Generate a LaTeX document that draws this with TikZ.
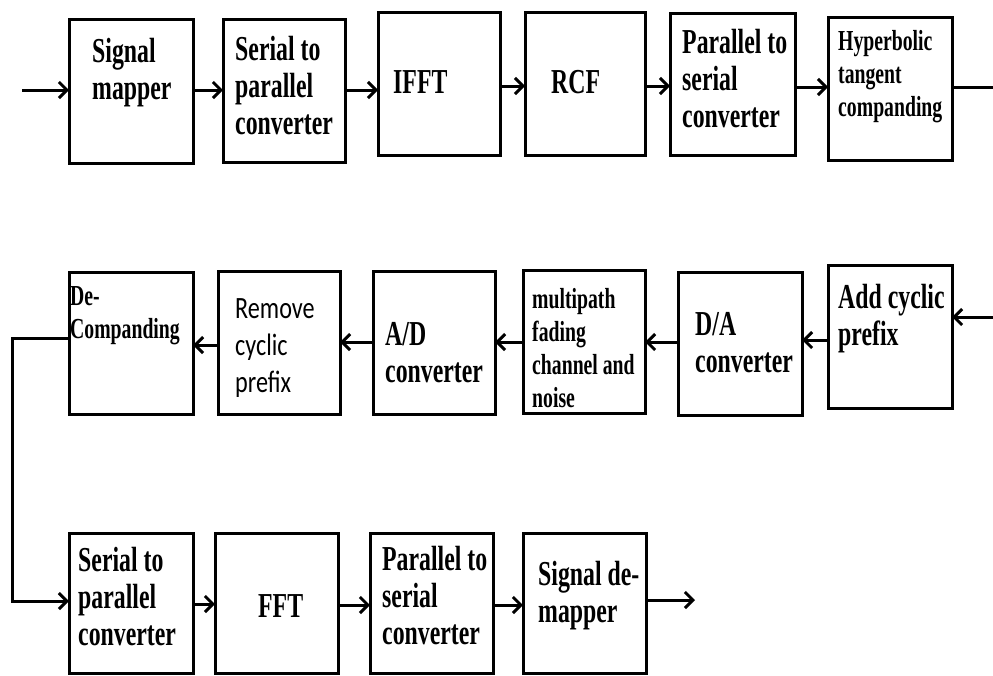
\documentclass[tikz,border=0pt]{standalone}
\usepackage{fontspec}
\usetikzlibrary{arrows.meta}
\newfontfamily\blkserif[FakeStretch=0.68]{Liberation Serif}
\newfontfamily\blksans[FakeStretch=0.78]{Carlito}
% labels are placed by the baseline of their last line
\tikzset{
  blk/.style={draw, line width=3pt, inner sep=0pt, outer sep=0pt},
  arr/.style={line width=3pt, -{Straight Barb[length=8pt,width=16pt]}},
  lbl/.style={anchor=base west, align=left, inner sep=0pt,
    font=\blkserif\bfseries\fontsize{35}{37}\selectfont},
  lbls/.style={lbl, font=\blkserif\bfseries\fontsize{29}{33}\selectfont},
  lblc/.style={lbl, font=\blksans\fontsize{31}{37}\selectfont},
}
\begin{document}
\begin{tikzpicture}[x=1pt, y=-1pt]
\fill[white] (0,0) rectangle (993,675);
\useasboundingbox (0,0) rectangle (993,675);

% transmitter row
\node[blk, minimum width=124pt, minimum height=144pt] (sigmap) at (131,91)   {};
\node[blk, minimum width=122pt, minimum height=143pt] (sp1)    at (284,90.5) {};
\node[blk, minimum width=122pt, minimum height=143pt] (ifft)   at (439,83.5) {};
\node[blk, minimum width=120pt, minimum height=143pt] (rcf)    at (585,83.5) {};
\node[blk, minimum width=125pt, minimum height=142pt] (ps1)    at (732.5,84) {};
\node[blk, minimum width=124pt, minimum height=143pt] (hyp)    at (890,88.5) {};

% channel row
\node[blk, minimum width=124pt, minimum height=143pt] (addcp)  at (890,336.5) {};
\node[blk, minimum width=124pt, minimum height=143pt] (da)     at (740,344)   {};
\node[blk, minimum width=122pt, minimum height=143pt] (chan)   at (584,341.5) {};
\node[blk, minimum width=122pt, minimum height=143pt] (ad)     at (434,343)   {};
\node[blk, minimum width=122pt, minimum height=143pt] (rmcp)   at (279,343)   {};
\node[blk, minimum width=124pt, minimum height=142pt] (decomp) at (131,343)   {};

% receiver row
\node[blk, minimum width=124pt, minimum height=140pt] (sp2)   at (131,603.5)   {};
\node[blk, minimum width=123pt, minimum height=140pt] (fft)   at (276.5,603.5) {};
\node[blk, minimum width=123pt, minimum height=140pt] (ps2)   at (431.5,603.5) {};
\node[blk, minimum width=123pt, minimum height=140pt] (demap) at (584.5,603.5) {};

% block labels
\node[lbl]  (tsigmap) at (92,99)   {Signal\\mapper};
\node[lbl]  (tsp1)    at (235,134) {Serial to\\parallel\\converter};
\node[lbl]  (tifft)   at (393,93)  {IFFT};
\node[lbl]  (trcf)    at (551,93)  {RCF};
\node[lbl]  (tps1)    at (682,127) {Parallel to\\serial\\converter};
\node[lbls] (thyp)    at (838,116) {Hyperbolic\\tangent\\companding};
\node[lbl]  (taddcp)  at (838,345) {Add cyclic\\prefix};
\node[lbl]  (tda)     at (695,372) {D/A\\converter};
\node[lbls] (tchan)   at (532,407) {multipath\\fading\\channel and\\noise};
\node[lbl]  (tad)     at (385,382) {A/D\\converter};
\node[lblc] (trmcp)   at (235,392) {Remove\\cyclic\\prefix};
\node[lbls] (tdecomp) at (70,338)  {De-\\Companding};
\node[lbl]  (tsp2)    at (78,645)  {Serial to\\parallel\\converter};
\node[lbl]  (tfft)    at (258,617) {FFT};
\node[lbl]  (tps2)    at (382,644) {Parallel to\\serial\\converter};
\node[lbl]  (tdemap)  at (538,622) {Signal de-\\mapper};

% connectors
\coordinate (in)  at (22,90);
\coordinate (out) at (695,600);
\draw[arr] (in) -- (sigmap.west |- in);
\draw[arr] (sigmap.east |- 0,90) -- (sp1.west |- 0,90);
\draw[arr] (sp1.east |- 0,90) -- (ifft.west |- 0,90);
\draw[arr] (ifft.east |- 0,86) -- (rcf.west |- 0,86);
\draw[arr] (rcf.east |- 0,86) -- (ps1.west |- 0,86);
\draw[arr] (ps1.east |- 0,87) -- (hyp.west |- 0,87);
\draw[arr] (hyp.east |- 0,87) -- (994,87) -- (994,317) -- (addcp.east |- 0,317);
\draw[arr] (addcp.west |- 0,340) -- (da.east |- 0,340);
\draw[arr] (da.west |- 0,342) -- (chan.east |- 0,342);
\draw[arr] (chan.west |- 0,342) -- (ad.east |- 0,342);
\draw[arr] (ad.west |- 0,342) -- (rmcp.east |- 0,342);
\draw[arr] (rmcp.west |- 0,345) -- (decomp.east |- 0,345);
\draw[arr] (decomp.west |- 0,338) -- (12,338) -- (12,601) -- (sp2.west |- 0,601);
\draw[arr] (sp2.east |- 0,604) -- (fft.west |- 0,604);
\draw[arr] (fft.east |- 0,605) -- (ps2.west |- 0,605);
\draw[arr] (ps2.east |- 0,605) -- (demap.west |- 0,605);
\draw[arr] (demap.east |- out) -- (out);
\end{tikzpicture}
\end{document}
